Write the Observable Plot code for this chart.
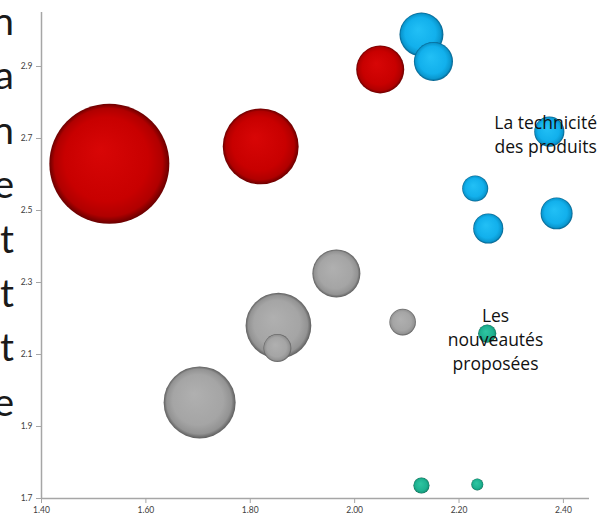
<!DOCTYPE html>
<html>
<head>
<meta charset="utf-8">
<script src="https://cdn.jsdelivr.net/npm/d3@7"></script>
<script src="https://cdn.jsdelivr.net/npm/@observablehq/plot@0.6"></script>
<style>
  html, body { margin: 0; padding: 0; background: #fff; }
  #wrap { position: relative; width: 608px; height: 517px; overflow: hidden; }
  #side { position: absolute; left: 0; top: 0; width: 14px; font-family: Lato, "Open Sans", sans-serif; font-size: 39px; color: #1a1a1a; }
  #side span { position: absolute; right: 0; line-height: 1; }
</style>
</head>
<body>
<div id="wrap"><div id="side"></div></div>
<script>
// Cut-off words at the left edge of the slide (last visible letters)
const sideLetters = ["n", "a", "n", "e", "t", "t", "t", "e"];

// Axis ticks
const xTicks = [1.40, 1.60, 1.80, 2.00, 2.20, 2.40];
const yTicks = [1.7, 1.9, 2.1, 2.3, 2.5, 2.7, 2.9];

// Series: red
const redX = [1.530, 1.820, 2.049];
const redY = [2.630, 2.678, 2.892];
const redSize = [100, 40, 16];

// Series: gray
const grayX = [1.965, 1.854, 1.852, 2.092, 1.703];
const grayY = [2.325, 2.180, 2.118, 2.190, 1.967];
const graySize = [16, 30, 5.4, 4.9, 36];

// Series: blue
const blueX = [2.128, 2.151, 2.373, 2.231, 2.256, 2.387];
const blueY = [2.989, 2.914, 2.719, 2.561, 2.450, 2.492];
const blueSize = [13.4, 10.6, 6.3, 4.7, 6.3, 7.1];

// Series: green
const greenX = [2.254, 2.128, 2.235];
const greenY = [2.158, 1.736, 1.739];
const greenSize = [2.3, 1.8, 1.0];

// Annotations
const labelText = ["La technicité\ndes produits", "Les\nnouveautés\nproposées"];
const labelX = [2.366, 2.270];
const labelY = [2.714, 2.146];

const toRows = (xs, ys, ss) => xs.map((x, i) => ({x, y: ys[i], s: ss[i]}));
const red = toRows(redX, redY, redSize);
const gray = toRows(grayX, grayY, graySize);
const blue = toRows(blueX, blueY, blueSize);
const green = toRows(greenX, greenY, greenSize);
const labels = labelText.map((t, i) => ({t, x: labelX[i], y: labelY[i]}));

const gradients = {
  gRed:   ["#d80606", "#c80000", "#b00000", "#6a0000"],
  gGray:  ["#b0b0b0", "#a5a5a5", "#939393", "#5e5e5e"],
  gBlue:  ["#22c0f6", "#12b0ec", "#0a98d0", "#05608a"],
  gGreen: ["#2fc6a2", "#1fb291", "#169a7c", "#0b5f4b"]
};

function defsMark() {
  const defs = d3.create("svg:defs");
  for (const [id, c] of Object.entries(gradients)) {
    const g = defs.append("radialGradient").attr("id", id)
      .attr("cx", "50%").attr("cy", "50%").attr("r", "50%")
      .attr("fx", "42%").attr("fy", "38%");
    g.append("stop").attr("offset", "0%").attr("stop-color", c[0]);
    g.append("stop").attr("offset", "70%").attr("stop-color", c[1]);
    g.append("stop").attr("offset", "90%").attr("stop-color", c[2]);
    g.append("stop").attr("offset", "100%").attr("stop-color", c[3]);
  }
  return defs.node();
}

const axisColor = "#a6a6a6";
const dotOpts = (fill) => ({x: "x", y: "y", r: "s", fill, stroke: "none"});

const chart = Plot.plot({
  width: 608,
  height: 517,
  marginLeft: 41,
  marginRight: 19,
  marginTop: 12,
  marginBottom: 19,
  style: {fontFamily: "Lato, 'Open Sans', sans-serif", background: "transparent", overflow: "visible"},
  x: {domain: [1.4, 2.45]},
  y: {domain: [1.7, 3.05]},
  r: {type: "sqrt", domain: [0, 100], range: [0, 60]},
  marks: [
    defsMark,
    Plot.ruleX([1.4], {stroke: axisColor, strokeWidth: 1.5}),
    Plot.ruleY([1.7], {stroke: axisColor, strokeWidth: 1.5}),
    Plot.axisX({ticks: xTicks, tickFormat: d3.format(".2f"), tickSize: 5, tickPadding: 3, stroke: axisColor, fill: "#404040", fontSize: 8.5, label: null}),
    Plot.axisY({ticks: yTicks, tickFormat: d3.format(".1f"), tickSize: 5, tickPadding: 4, stroke: axisColor, fill: "#404040", fontSize: 8.5, label: null}),
    Plot.dot(red, dotOpts("url(#gRed)")),
    Plot.dot(gray, dotOpts("url(#gGray)")),
    Plot.dot(blue, dotOpts("url(#gBlue)")),
    Plot.dot(green, dotOpts("url(#gGreen)")),
    Plot.text(labels, {x: "x", y: "y", text: "t", fontSize: 17.5, fontFamily: "'Open Sans', Lato, sans-serif", lineHeight: 1.38, fill: "#111", textAnchor: "middle"})
  ]
});

const wrap = document.getElementById("wrap");
wrap.insertBefore(chart, wrap.firstChild);

const side = document.getElementById("side");
const baselineTop = 1;   // top of first letter box
const step = 54.4;
sideLetters.forEach((ch, i) => {
  const s = document.createElement("span");
  s.textContent = ch;
  s.style.top = (baselineTop + i * step) + "px";
  side.appendChild(s);
});
</script>
</body>
</html>
